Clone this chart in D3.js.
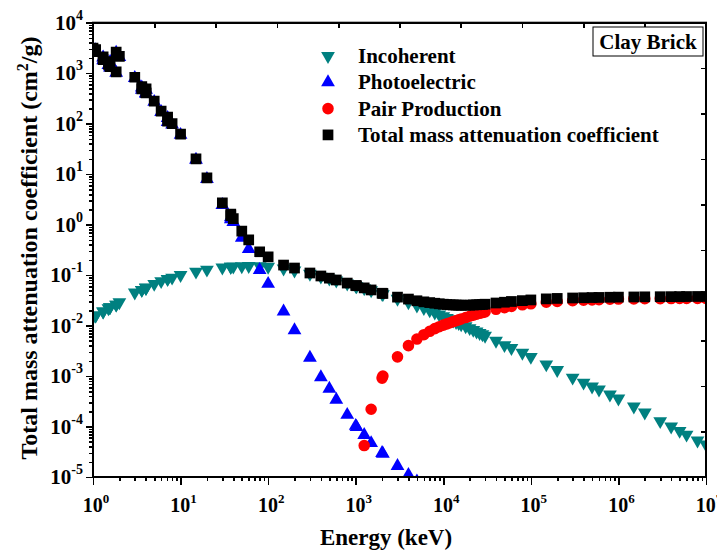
<!DOCTYPE html>
<html>
<head>
<meta charset="utf-8">
<title>Clay Brick</title>
<script src="https://cdnjs.cloudflare.com/ajax/libs/d3/7.8.5/d3.min.js"></script>
<style>
  body { margin: 0; background: #fff; }
  svg text { font-family: "Liberation Serif", "Times New Roman", serif; font-weight: bold; fill: #000; }
  .axis path, .axis line { stroke: #000; stroke-width: 1.6; fill: none; shape-rendering: crispEdges; }
</style>
</head>
<body>
<div id="chart"></div>
<script>
// photon energies (keV), XCOM grid with absorption edges
var energy = [1, 1.072, 1.072, 1.305, 1.305, 1.5, 1.56, 1.56, 1.839, 1.839, 2, 3, 3.608, 3.608, 4, 4.038, 4.038,
  5, 6, 7.112, 7.112, 8, 10, 15, 20, 30, 37.44, 37.44, 40, 50, 60, 80, 100, 150, 200, 300, 400, 500, 600, 800,
  1000, 1022, 1250, 1500, 2000, 2044, 3000, 4000, 5000, 6000, 7000, 8000, 9000, 10000, 11000, 12000, 13000,
  14000, 15000, 16000, 18000, 20000, 22000, 24000, 26000, 28000, 30000, 40000, 50000, 60000, 80000, 1e5,
  1.5e5, 2e5, 3e5, 4e5, 5e5, 6e5, 8e5, 1e6, 1.5e6, 2e6, 3e6, 4e6, 5e6, 6e6, 8e6, 1e7];

var incoherent = [0.0145, 0.0158, 0.0158, 0.019, 0.019, 0.022, 0.023, 0.023, 0.026, 0.026, 0.029, 0.045, 0.051, 0.051,
  0.056, 0.056, 0.056, 0.067, 0.076, 0.084, 0.084, 0.089, 0.100, 0.117, 0.128, 0.141, 0.146, 0.146, 0.147, 0.150,
  0.151, 0.150, 0.146, 0.135, 0.123, 0.106, 0.093, 0.085, 0.078, 0.068, 0.061, 0.060, 0.055, 0.050, 0.0425, 0.042,
  0.034, 0.029, 0.025, 0.0222, 0.0200, 0.0182, 0.0166, 0.0153, 0.0142, 0.0133, 0.0125, 0.0118, 0.0112, 0.0106,
  0.0097, 0.0089, 0.0082, 0.0076, 0.0071, 0.0067, 0.0063, 0.0050, 0.0041, 0.0036, 0.0029, 0.0024, 0.0017, 0.00132,
  0.00093, 0.00074, 0.00062, 0.00054, 0.00043, 0.00036, 0.00025, 0.00019, 0.000128, 0.0001, 0.000082, 0.000069,
  0.000053, 0.000044];

var photoelectric = [3050, 2600, 2850, 1800, 2050, 1450, 1300, 1650, 1020, 2550, 2100, 800, 470, 520, 400, 390, 470,
  270, 170, 108, 130, 96, 60, 19.3, 8.0, 2.45, 1.28, 1.40, 1.12, 0.55, 0.33, 0.126, 0.067, 0.019, 0.0081, 0.0023,
  0.00095, 0.00056, 0.00034, 0.00017, 0.000103, 0.000098, 0.000068, 0.000047, 0.000030, 0.000029, 0.0000165,
  0.000011, 0.0000082, null, null, null, null, null, null, null, null, null, null, null, null, null, null, null,
  null, null, null, null, null, null, null, null, null, null, null, null, null, null, null, null, null, null,
  null, null, null, null, null, null];

var pairProduction = [null, null, null, null, null, null, null, null, null, null, null, null, null, null, null, null,
  null, null, null, null, null, null, null, null, null, null, null, null, null, null, null, null, null, null, null,
  null, null, null, null, null, null, null, 0.000042, 0.00022, 0.00091, 0.00100, 0.0024, 0.0040, 0.0054, 0.0066,
  0.0077, 0.0087, 0.0095, 0.0102, 0.0108, 0.0114, 0.0120, 0.0125, 0.0130, 0.0135, 0.0144, 0.0153, 0.0161, 0.0168,
  0.0175, 0.0181, 0.0186, 0.0210, 0.0227, 0.0240, 0.0258, 0.0270, 0.0290, 0.0300, 0.0310, 0.0318, 0.0323, 0.0327,
  0.0332, 0.0335, 0.0338, 0.0340, 0.0342, 0.0343, 0.0344, 0.0344, 0.0345, 0.0345];

var totalMAC = [3150, 2680, 2930, 1850, 2100, 1490, 1340, 1700, 1060, 2620, 2160, 830, 490, 540, 415, 405, 490,
  280, 177, 112, 135, 100, 62, 20, 8.4, 2.7, 1.5, 1.62, 1.32, 0.74, 0.50, 0.29, 0.23, 0.158, 0.138, 0.110, 0.096,
  0.087, 0.080, 0.0695, 0.0622, 0.0615, 0.0558, 0.0508, 0.0437, 0.0433, 0.0366, 0.0335, 0.031, 0.0295, 0.0285,
  0.0277, 0.0270, 0.0265, 0.0261, 0.0258, 0.0256, 0.0255, 0.0254, 0.0253, 0.0253, 0.0254, 0.0256, 0.0258, 0.0260,
  0.0262, 0.0265, 0.0280, 0.0290, 0.0300, 0.0312, 0.0322, 0.0338, 0.0345, 0.0352, 0.0356, 0.0359, 0.0361, 0.0364,
  0.0366, 0.0369, 0.0371, 0.0373, 0.0374, 0.0375, 0.0376, 0.0377, 0.0378];

var xTickExp = [0, 1, 2, 3, 4, 5, 6, 7];
var yTickExp = [-5, -4, -3, -2, -1, 0, 1, 2, 3, 4];

var seriesNames = ["Incoherent", "Photoelectric", "Pair Production", "Total mass attenuation coefficient"];
var seriesColors = ["#008080", "#0000ff", "#ff0000", "#000000"];

var W = 717, H = 552;
var plotL = 93, plotR = 706, plotT = 22.7, plotB = 477;

var x = d3.scaleLog().domain([1, 1e7]).range([plotL, plotR]);
var y = d3.scaleLog().domain([1e-5, 1e4]).range([plotB, plotT]);

var svg = d3.select("#chart").append("svg")
  .attr("width", W).attr("height", H);

svg.append("defs").append("clipPath").attr("id", "plotclip")
  .append("rect").attr("x", plotL).attr("y", plotT)
  .attr("width", plotR - plotL).attr("height", plotB - plotT);

// minor ticks (2..9 per decade)
function minors(lo, hi) {
  var out = [];
  for (var e = lo; e < hi; e++)
    for (var k = 2; k <= 9; k++) out.push(k * Math.pow(10, e));
  return out;
}

svg.append("g").attr("class", "axis")
  .attr("transform", "translate(0," + plotB + ")")
  .call(d3.axisBottom(x).tickValues(minors(0, 7)).tickSize(4).tickFormat(""));
svg.append("g").attr("class", "axis")
  .attr("transform", "translate(0," + plotB + ")")
  .call(d3.axisBottom(x).tickValues(xTickExp.map(function(e) { return Math.pow(10, e); })).tickSize(8).tickFormat(""));

svg.append("g").attr("class", "axis")
  .attr("transform", "translate(" + plotL + ",0)")
  .call(d3.axisLeft(y).tickValues(minors(-5, 4)).tickSize(4).tickFormat(""));
svg.append("g").attr("class", "axis")
  .attr("transform", "translate(" + plotL + ",0)")
  .call(d3.axisLeft(y).tickValues(yTickExp.map(function(e) { return Math.pow(10, e); })).tickSize(7).tickFormat(""));

// mirrored top / right axes, evenly spaced inward ticks
var xm = d3.scaleLinear().domain([0, 10]).range([plotL, plotR]);
var ym = d3.scaleLinear().domain([0, 10]).range([plotB, plotT]);
svg.append("g").attr("class", "axis")
  .attr("transform", "translate(0," + plotT + ")")
  .call(d3.axisTop(xm).ticks(10).tickSizeInner(-5).tickSizeOuter(0).tickFormat(""));
svg.append("g").attr("class", "axis")
  .attr("transform", "translate(" + plotR + ",0)")
  .call(d3.axisRight(ym).ticks(10).tickSizeInner(-5).tickSizeOuter(0).tickFormat(""));

// tick labels 10^n
xTickExp.forEach(function(e) {
  var t = svg.append("text")
    .attr("x", x(Math.pow(10, e)) + 3).attr("y", plotB + 35)
    .attr("text-anchor", "middle").style("font-size", "20px");
  t.append("tspan").text("10");
  t.append("tspan").attr("dy", -9).style("font-size", "13px").text(e);
});
yTickExp.forEach(function(e) {
  var t = svg.append("text")
    .attr("x", plotL - 10).attr("y", y(Math.pow(10, e)) + 7)
    .attr("text-anchor", "end").style("font-size", "21px");
  t.append("tspan").text("10");
  t.append("tspan").attr("dy", -10).style("font-size", "14px").text(e);
});

// axis titles
svg.append("text")
  .attr("x", 386).attr("y", 545)
  .attr("text-anchor", "middle").style("font-size", "23px")
  .text("Energy (keV)");

var yt = svg.append("text")
  .attr("transform", "translate(37,248)rotate(-90)")
  .attr("text-anchor", "middle").style("font-size", "24px");
yt.append("tspan").text("Total mass attenuation coefficient (cm");
yt.append("tspan").attr("dy", -9).style("font-size", "16px").text("2");
yt.append("tspan").attr("dy", 9).text("/g)");

// markers
var shapes = [
  d3.symbol().type(d3.symbolTriangle).size(82),
  d3.symbol().type(d3.symbolTriangle).size(82),
  d3.symbol().type(d3.symbolCircle).size(105),
  d3.symbol().type(d3.symbolSquare).size(115)
];
var rotations = [180, 0, 0, 0];
var allSeries = [incoherent, photoelectric, pairProduction, totalMAC];

var plot = svg.append("g").attr("clip-path", "url(#plotclip)");
allSeries.forEach(function(vals, s) {
  var pts = energy.map(function(e, i) { return [e, vals[i]]; })
    .filter(function(d) { return d[1] != null; });
  plot.append("g").selectAll("path")
    .data(pts).enter().append("path")
    .attr("d", shapes[s])
    .attr("fill", seriesColors[s])
    .attr("transform", function(d) {
      return "translate(" + x(d[0]) + "," + y(d[1]) + ")rotate(" + rotations[s] + ")";
    });
});

// frame
svg.append("rect")
  .attr("x", plotL).attr("y", plotT)
  .attr("width", plotR - plotL).attr("height", plotB - plotT)
  .attr("fill", "none").attr("stroke", "#000").attr("stroke-width", 2);

// legend
var legend = svg.append("g").selectAll("g")
  .data(seriesNames).enter().append("g")
  .attr("transform", function(d, i) { return "translate(328," + (56 + i * 26.3) + ")"; });
legend.append("path")
  .attr("d", function(d, i) { return shapes[i](); })
  .attr("fill", function(d, i) { return seriesColors[i]; })
  .attr("transform", function(d, i) { return "rotate(" + rotations[i] + ")"; });
legend.append("text")
  .attr("x", 30).attr("y", 7)
  .style("font-size", "21px")
  .text(function(d) { return d; });

// sample label box
svg.append("rect")
  .attr("x", 593).attr("y", 27).attr("width", 110).attr("height", 29)
  .attr("fill", "#fff").attr("stroke", "#000").attr("stroke-width", 1);
svg.append("text")
  .attr("x", 648).attr("y", 49).attr("text-anchor", "middle")
  .style("font-size", "21px").text("Clay Brick");
</script>
</body>
</html>
